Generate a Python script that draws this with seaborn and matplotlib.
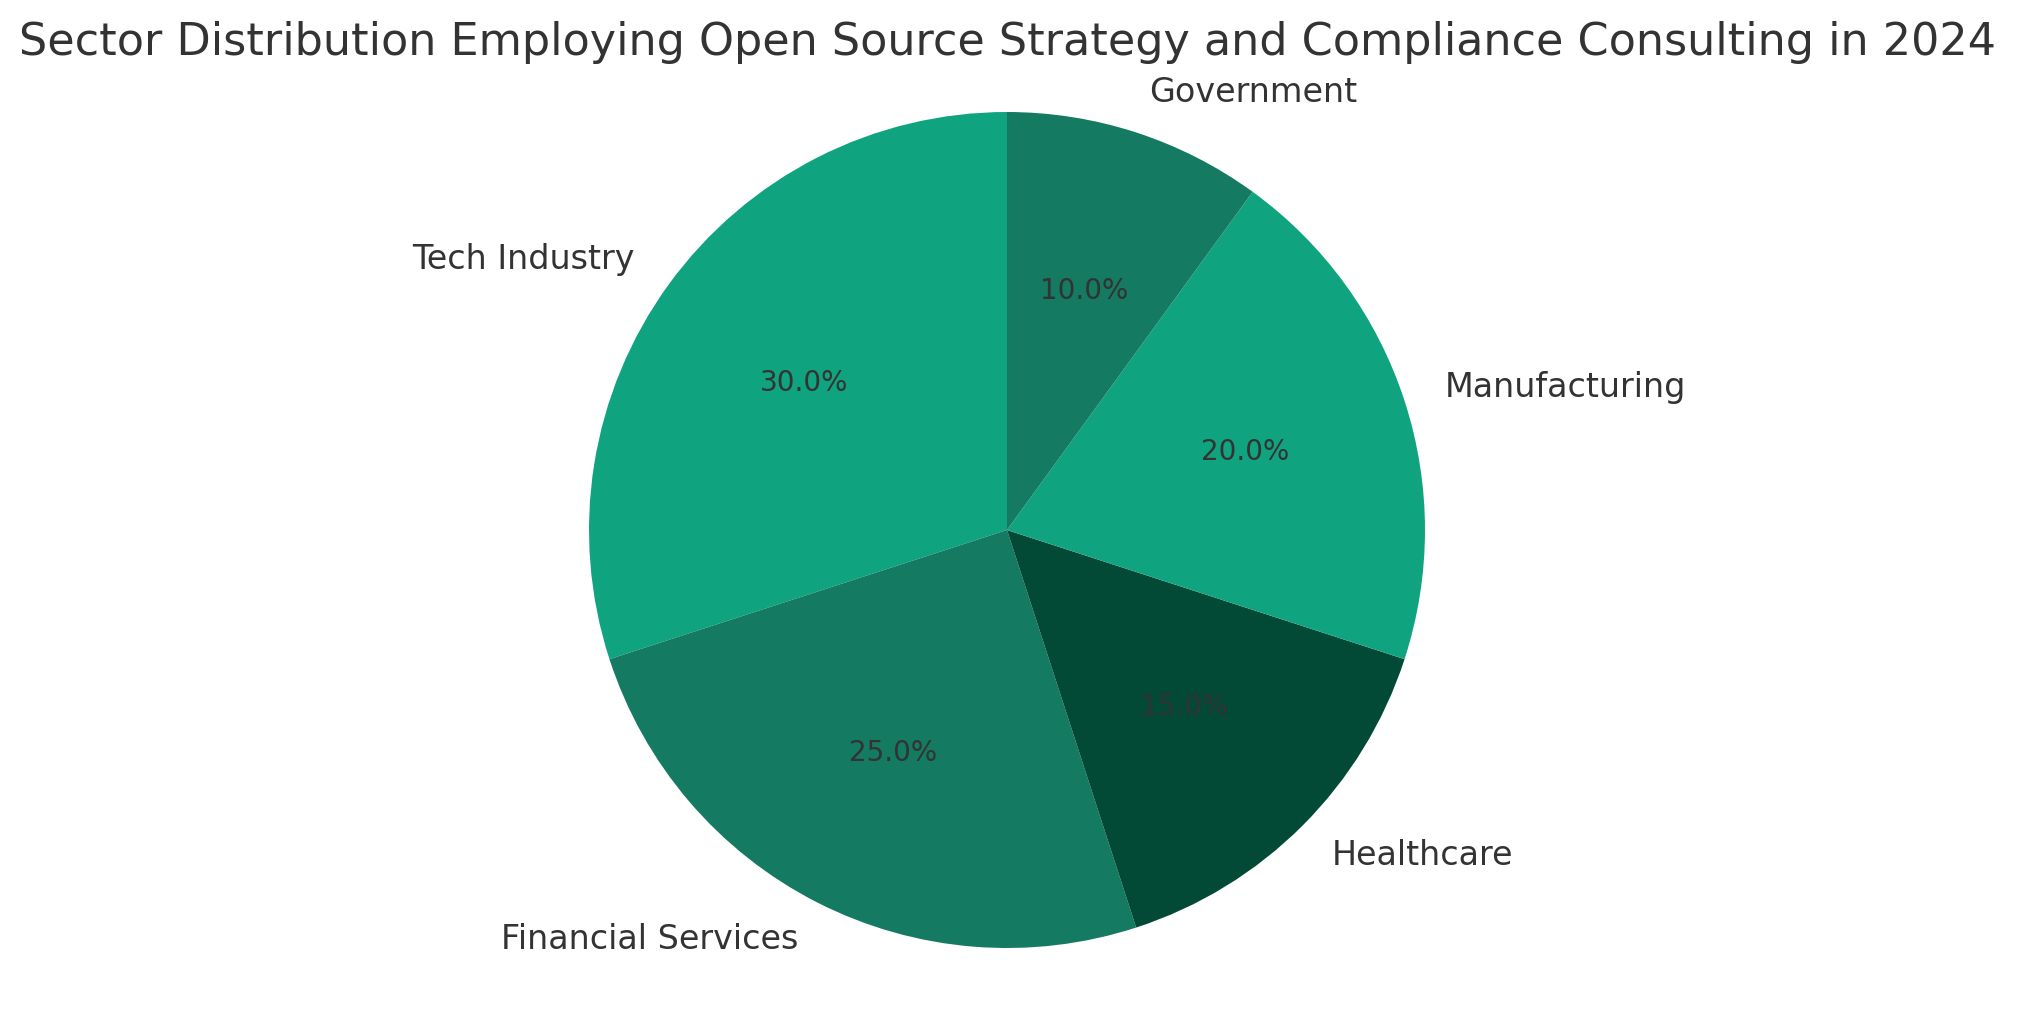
import seaborn as sns
import matplotlib.pyplot as plt

sectors = ["Tech Industry", "Financial Services", "Healthcare", "Manufacturing", "Government"]
shares = [30, 25, 15, 20, 10]
palette = ["#10a37f", "#147a61", "#024a36"]

sns.set_theme(style="white")
plt.rcParams["text.color"] = "#333333"

fig = plt.figure(figsize=(10.085, 5.07), dpi=200)
W, H = 2017, 1014
side = 1045
cx, cy = 1007, 1014 - 530
ax = fig.add_axes([(cx - side / 2) / W, (cy - side / 2) / H, side / W, side / H])

colors = [palette[i % 3] for i in range(len(shares))]
ax.pie(shares, labels=sectors, colors=colors, autopct="%1.1f%%", startangle=90,
       textprops={"fontsize": 12}, wedgeprops={"linewidth": 0})
for t in ax.texts:
    if t.get_text().endswith("%"):
        t.set_fontsize(10)
ax.set_aspect("equal")

fig.suptitle("Sector Distribution Employing Open Source Strategy and Compliance Consulting in 2024",
             x=cx / W, y=1 - 43 / H, va="center", fontsize=16.0)

fig.savefig("out.png", dpi=200)
